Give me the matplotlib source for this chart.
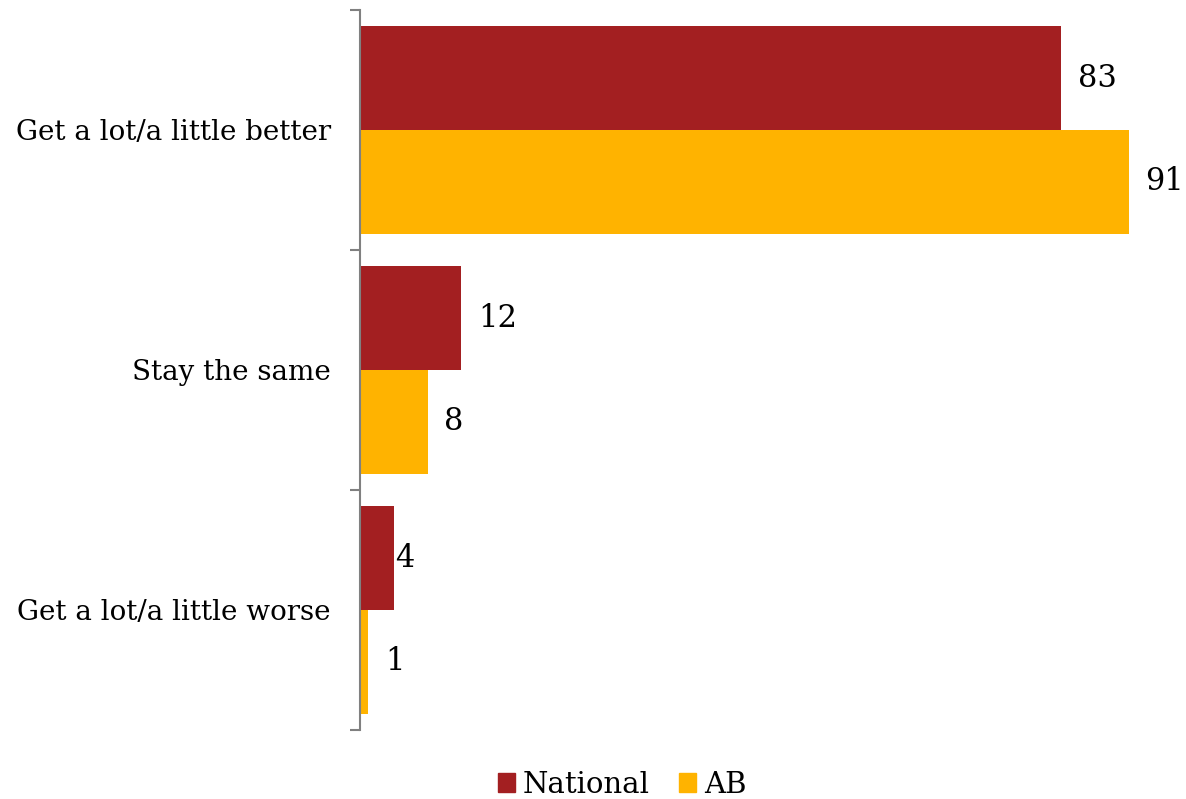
import numpy as np
import matplotlib.pyplot as plt
from matplotlib.patches import Patch

categories = ['Get a lot/a little better', 'Stay the same', 'Get a lot/a little worse']
national = [83, 12, 4]
ab = [91, 8, 1]
series_names = ['National', 'AB']

RED = '#A31F21'
GOLD = '#FFB300'
AXIS_GREY = '#808080'

plt.rcParams['font.family'] = ['DejaVu Serif']

fig = plt.figure(figsize=(11.86, 7.99), dpi=100)
ax = fig.add_axes([360 / 1186, 1 - 730 / 799, 811 / 1186, 720 / 799])

y = np.arange(len(categories))
h = 0.4333
ax.barh(y - h / 2, national, height=h, color=RED, label=series_names[0])
ax.barh(y + h / 2, ab, height=h, color=GOLD, label=series_names[1])

ax.set_ylim(len(categories) - 0.5, -0.5)
ax.set_xlim(0, 96)

# data labels
for i, v in enumerate(national):
    off = 1 if v < 5 else 12
    ax.annotate(str(v), (v, i - h / 2), xytext=(off, 0), textcoords='offset points',
                va='center', ha='left', fontsize=22)
for i, v in enumerate(ab):
    ax.annotate(str(v), (v, i + h / 2), xytext=(12, 0), textcoords='offset points',
                va='center', ha='left', fontsize=22)

# group boundary ticks, category labels as minor ticks
ax.set_yticks(np.arange(len(categories) + 1) - 0.5)
ax.set_yticklabels([])
ax.set_yticks(y, minor=True)
ax.set_yticklabels(categories, minor=True, fontsize=20)
ax.tick_params(axis='y', which='major', length=7, width=1.5, color=AXIS_GREY)
ax.tick_params(axis='y', which='minor', length=0, pad=21)
ax.set_xticks([])

for s in ['top', 'right', 'bottom']:
    ax.spines[s].set_visible(False)
ax.spines['left'].set_color(AXIS_GREY)
ax.spines['left'].set_linewidth(1.5)

handles = [Patch(color=RED), Patch(color=GOLD)]
fig.legend(handles, series_names, loc='center', bbox_to_anchor=(622 / 1186, 1 - 785 / 799),
           ncol=2, frameon=False, fontsize=21, handlelength=0.6, handleheight=0.6,
           handletextpad=0.25, columnspacing=1.0)

fig.savefig('out.png', dpi=100)
